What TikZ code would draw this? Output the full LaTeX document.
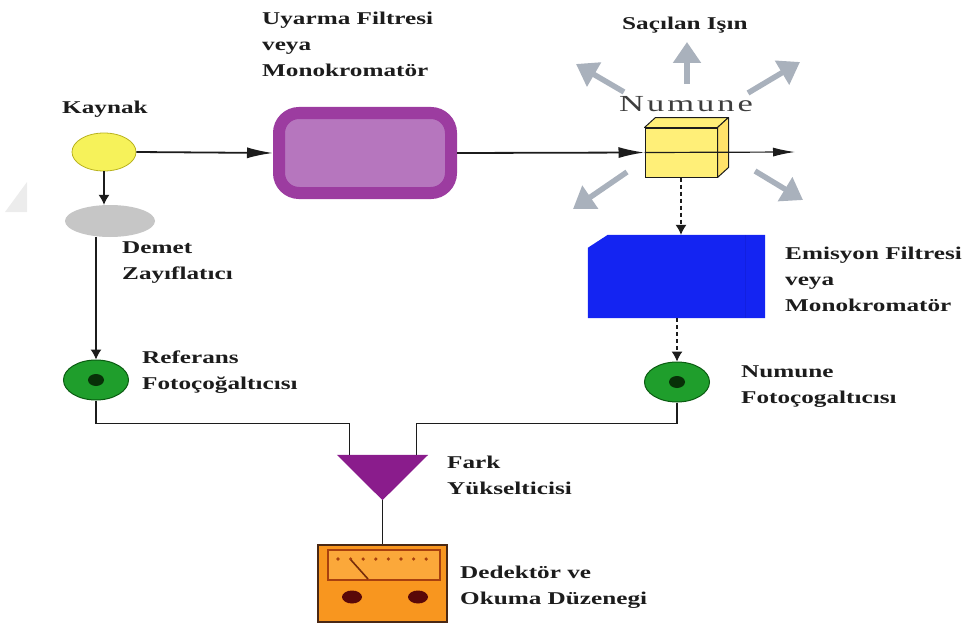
\documentclass[tikz,border=0pt]{standalone}
\usepackage{fontspec}
\usetikzlibrary{arrows.meta,shapes.geometric}
\newfontfamily\labfont{Liberation Serif Bold}[FakeStretch=1.4]
\newfontfamily\numfont{Liberation Serif}[FakeStretch=1.5,LetterSpace=13]
\definecolor{ink}{HTML}{1C1C1C}
\definecolor{lampY}{HTML}{F6F25A}
\definecolor{lampYd}{HTML}{B8B21E}
\definecolor{attG}{HTML}{C6C6C6}
\definecolor{filtO}{HTML}{9C3CA0}
\definecolor{filtI}{HTML}{B676BE}
\definecolor{cubeY}{HTML}{FFEF78}
\definecolor{emBlue}{HTML}{1424F2}
\definecolor{emBlueD}{HTML}{1220E0}
\definecolor{pmtG}{HTML}{1F9E2C}
\definecolor{pmtGd}{HTML}{0B5C12}
\definecolor{pmtC}{HTML}{083008}
\definecolor{ampP}{HTML}{8A1C8C}
\definecolor{scatG}{HTML}{A9B1BC}
\definecolor{metO}{HTML}{F8961F}
\definecolor{metW}{HTML}{FBA83A}
\definecolor{metB}{HTML}{4A2814}
\definecolor{metR}{HTML}{A8400E}
\definecolor{knob}{HTML}{5A0808}
\definecolor{wmark}{HTML}{ECECEC}
\tikzset{
  lbl/.style={font=\labfont\fontsize{18}{26}\selectfont, text=ink, align=left, anchor=north west, inner sep=0pt},
  wire/.style={draw=ink, line width=1.1pt},
  beam/.style={draw=ink, line width=1.8pt, -{Latex[length=26pt,width=11pt]}},
  feed/.style={draw=ink, line width=1.1pt, -{Latex[length=10pt,width=11pt]}},
  dashfeed/.style={feed, dash pattern=on 4pt off 3pt},
  scatter/.style={draw=scatG, line width=5.5pt, -{Triangle[length=21pt,width=27pt]}},
  pmt/.style={ellipse, draw=pmtGd, line width=1pt, fill=pmtG, minimum width=65pt, minimum height=40pt, inner sep=0pt}
}
\begin{document}
\begin{tikzpicture}[x=1pt,y=-1pt]
\useasboundingbox (0,0) rectangle (978,626);

% faint corner mark
\fill[wmark] (27,182) -- (27,212) -- (5,212) -- cycle;

% source and attenuator
\node[ellipse, draw=lampYd, line width=0.8pt, fill=lampY, minimum width=64pt, minimum height=38pt, inner sep=0pt] (src) at (104,152) {};
\node[ellipse, fill=attG, minimum width=90pt, minimum height=32pt, inner sep=0pt] (att) at (110,221) {};

% excitation filter
\node[rectangle, rounded corners=20pt, draw=filtO, line width=12pt, fill=filtI, minimum width=172pt, minimum height=80pt] (exc) at (365,153) {};

% sample cuvette: front face as node, top and side faces from its corners
\node[rectangle, draw=ink, line width=1pt, fill=cubeY, minimum width=72pt, minimum height=49pt, inner sep=0pt] (cube) at (681,152.5) {};
\filldraw[fill=cubeY, draw=ink, line width=1pt, line join=round]
  (cube.north west) -- ++(11,-10) -- ([xshift=11,yshift=10]cube.north east) -- (cube.north east) -- cycle;
\filldraw[fill=cubeY!88!orange, draw=ink, line width=1pt, line join=round]
  (cube.north east) -- ++(11,-10) -- ([xshift=11,yshift=10]cube.south east) -- (cube.south east) -- cycle;
\coordinate (out) at (795,152);

% emission filter (chamfered block)
\node[rectangle, minimum width=177pt, minimum height=83pt, inner sep=0pt] (emf) at (676.5,276.5) {};
\fill[emBlue] (emf.south west) -- (emf.south east) -- (emf.north east)
  -- ([xshift=20]emf.north west) -- ([yshift=-13]emf.north west) -- cycle;
\draw[emBlueD, line width=0.6pt] ([xshift=-20]emf.north east) -- ([xshift=-20]emf.south east);

% photomultipliers
\node[pmt] (refpmt) at (96,380) {};
\fill[pmtC] (refpmt.center) ellipse (8pt and 6pt);
\node[pmt] (smppmt) at (677,382) {};
\fill[pmtC] (smppmt.center) ellipse (8pt and 6pt);

% difference amplifier
\node[rectangle, minimum width=91pt, minimum height=45pt, inner sep=0pt] (amp) at (382.5,477.5) {};
\fill[ampP] (amp.north west) -- (amp.north east) -- (amp.south) -- cycle;

% readout meter
\node[rectangle, draw=metB, line width=1.5pt, fill=metO, minimum width=129pt, minimum height=77pt, inner sep=0pt] (meter) at (382.5,583.5) {};
\draw[metR, line width=1.4pt, fill=metW] (328,550) rectangle (440,580);
\foreach \k in {0,...,7} \fill[metR] (338+12.6*\k,559) circle (1.8pt);
\draw[metR!70!black, line width=1.6pt] (351,560) -- (368,579);
\fill[knob] (352,597) ellipse (10pt and 6.5pt);
\fill[knob] (418,597) ellipse (10pt and 6.5pt);

% optical path
\draw[beam] (src.east) -- (exc.west);
\draw[beam] (exc.east) -- (cube.west);
\draw[draw=ink, line width=1.2pt, -{Latex[length=22pt,width=9pt]}] (cube.west) -- (out);
\draw[feed] (src.south) -- (src.south |- att.north);
\draw[feed] (refpmt.north |- att.south) -- (refpmt.north);
\draw[dashfeed] (cube.south) -- (cube.south |- emf.north);
\draw[dashfeed] (smppmt.north |- emf.south) -- (smppmt.north);

% signal wiring
\draw[wire] (refpmt.south) -- ++(0,23) -| ([xshift=-33]amp.north);
\draw[wire] (smppmt.south) -- ++(0,21) -| ([xshift=34]amp.north);
\draw[wire] (amp.south) -- (meter.north);

% scattered light
\coordinate (sUp0) at (687,84);   \coordinate (sUp1) at (687,42);
\coordinate (sUL0) at (624,92);   \coordinate (sUL1) at (576,64);
\coordinate (sUR0) at (748,93);   \coordinate (sUR1) at (800,62);
\coordinate (sDL0) at (627,172);  \coordinate (sDL1) at (573,209);
\coordinate (sDR0) at (755,171);  \coordinate (sDR1) at (803,200);
\draw[scatter] (sUp0) -- (sUp1);
\draw[scatter] (sUL0) -- (sUL1);
\draw[scatter] (sUR0) -- (sUR1);
\draw[scatter] (sDL0) -- (sDL1);
\draw[scatter] (sDR0) -- (sDR1);

% labels
\node[lbl] (tSrc) at (62,101) {Kaynak};
\node[lbl] (tExc) at (262,12) {Uyarma Filtresi\\veya\\Monokromatör};
\node[lbl] (tScat) at (622,17) {Saçılan Işın};
\node[font=\numfont\fontsize{23}{26}\selectfont, text=ink!85, anchor=north west, inner sep=0pt] (tSmp) at (619,96) {Numune};
\node[lbl] (tAtt) at (122,242) {Demet\\Zayıflatıcı};
\node[lbl] (tEm) at (785,247) {Emisyon Filtresi\\veya\\Monokromatör};
\node[lbl] (tRef) at (142,351) {Referans\\Fotoçoğaltıcısı};
\node[lbl] (tSpm) at (741,366) {Numune\\Fotoçogaltıcısı};
\node[lbl] (tAmp) at (447,456) {Fark\\Yükselticisi};
\node[lbl] (tDet) at (460,566) {Dedektör ve\\Okuma Düzenegi};
\end{tikzpicture}
\end{document}
